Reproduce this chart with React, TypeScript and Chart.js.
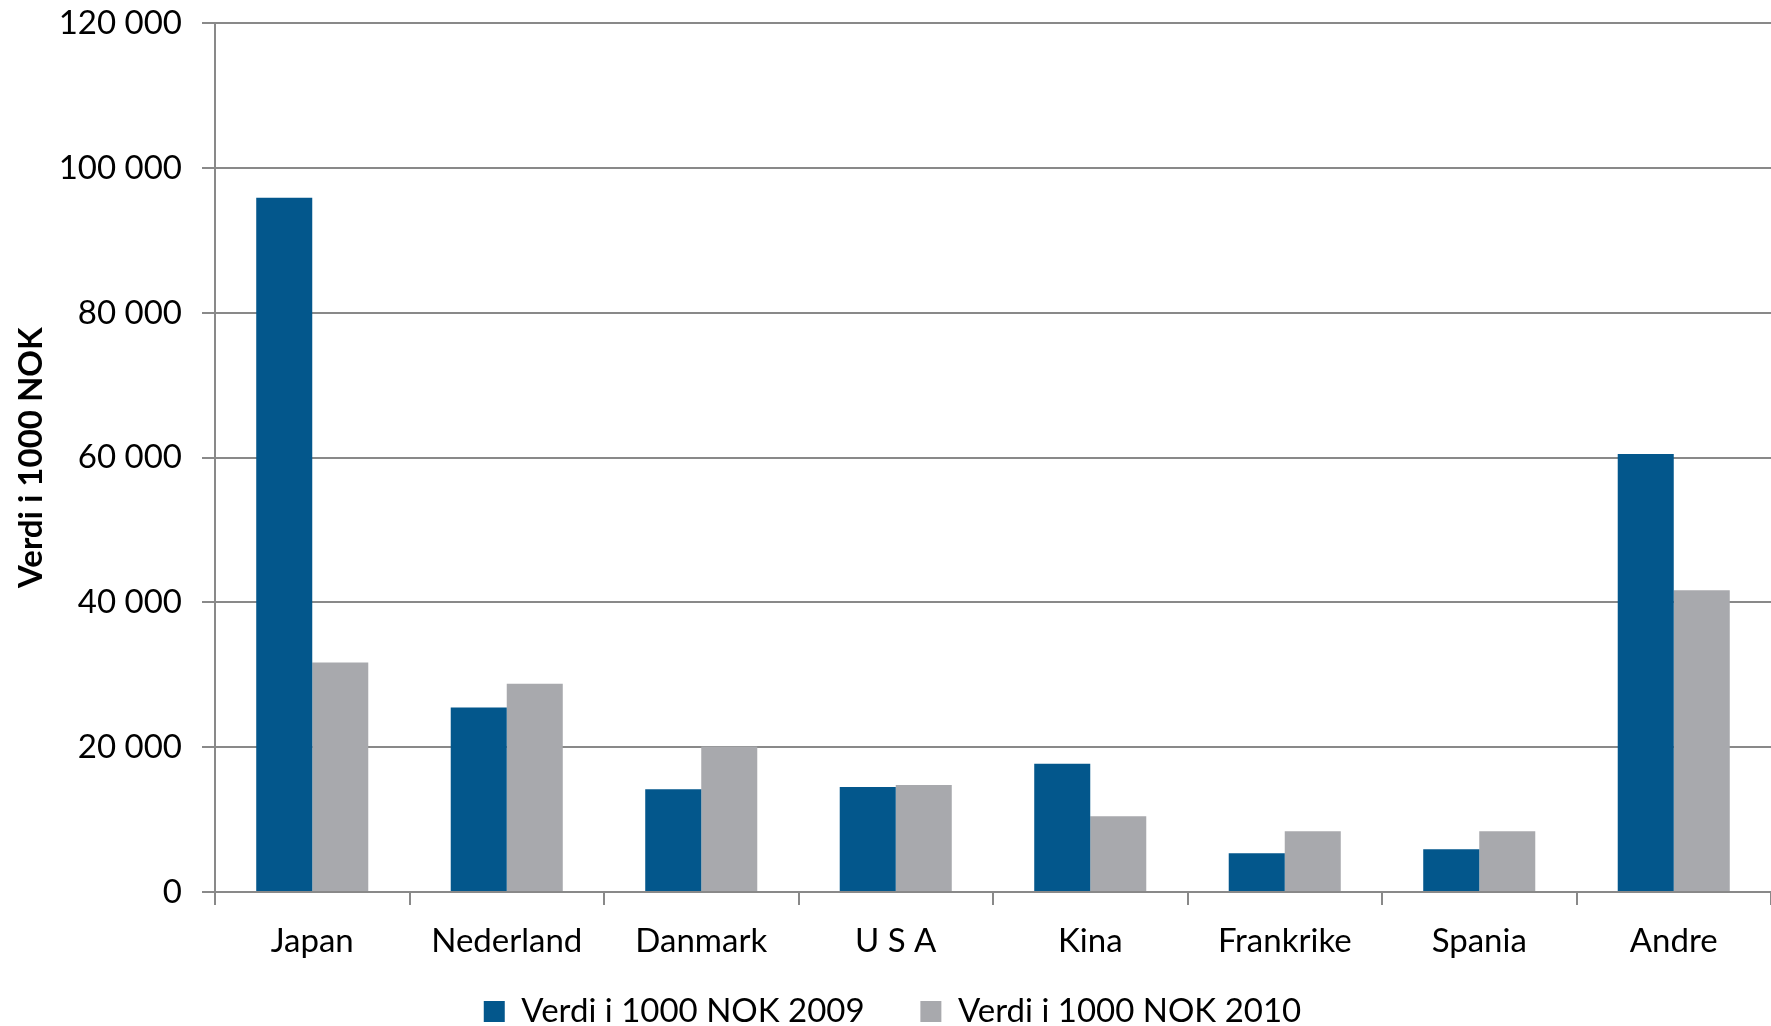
import React, { useEffect, useRef } from "react";
import { Chart, registerables } from "chart.js";

Chart.register(...registerables);

const categories = ["Japan", "Nederland", "Danmark", "U S A", "Kina", "Frankrike", "Spania", "Andre"];
const values2009 = [95900, 25500, 14200, 14500, 17700, 5350, 5900, 60500];
const values2010 = [31700, 28750, 20100, 14780, 10480, 8400, 8400, 41700];
const seriesLabels = ["Verdi i 1000 NOK 2009", "Verdi i 1000 NOK 2010"];
const yTitle = "Verdi i 1000 NOK";

const BLUE = "#03578C";
const GREY = "#A8A9AD";
const LINE = "#898989";
const FONT = "Lato";

function fmt(v: number): string {
  return String(v).replace(/\B(?=(\d{3})+(?!\d))/g, " ");
}

export default function App() {
  const ref = useRef<HTMLCanvasElement | null>(null);

  useEffect(() => {
    document.body.style.margin = "0";
    document.body.style.overflow = "hidden";
    const canvas = ref.current;
    if (!canvas) return;
    const chart = new Chart(canvas, {
      type: "bar",
      data: {
        labels: categories,
        datasets: [
          { label: seriesLabels[0], data: values2009, backgroundColor: BLUE, borderWidth: 0 },
          { label: seriesLabels[1], data: values2010, backgroundColor: GREY, borderWidth: 0 },
        ],
      },
      options: {
        responsive: false,
        animation: false,
        devicePixelRatio: 1,
        layout: { padding: { top: 23, right: 0, left: 14, bottom: 0 } },
        datasets: {
          bar: { categoryPercentage: 0.576, barPercentage: 1 },
        },
        plugins: {
          tooltip: { enabled: false },
          legend: {
            position: "bottom",
            labels: {
              color: "#000",
              font: { family: FONT, size: 33 },
              boxWidth: 21,
              boxHeight: 21,
              padding: 31,
              generateLabels: (c: any) => {
                const items = Chart.defaults.plugins.legend.labels.generateLabels(c);
                items.forEach((it: any, i: number) => {
                  if (i < items.length - 1) it.text = it.text + "\u2003";
                });
                return items;
              },
            },
          },
        },
        scales: {
          x: {
            grid: {
              offset: true,
              drawOnChartArea: false,
              drawTicks: true,
              tickLength: 13,
              color: LINE,
              lineWidth: 2,
            },
            border: { color: LINE, width: 2 },
            ticks: {
              color: "#000",
              font: { family: FONT, size: 33 },
              padding: 17,
              maxRotation: 0,
              autoSkip: false,
            },
            afterFit: (scale: any) => {
              scale.height = 72;
            },
          },
          y: {
            min: 0,
            max: 120000,
            ticks: {
              stepSize: 20000,
              color: "#000",
              font: { family: FONT, size: 33, lineHeight: 0.2 },
              padding: 20,
              callback: (v: any) => fmt(Number(v)),
            },
            grid: {
              color: LINE,
              lineWidth: 2,
              drawTicks: true,
              tickLength: 13,
            },
            border: { color: LINE, width: 2 },
            title: {
              display: true,
              text: yTitle,
              color: "#000",
              font: { family: FONT, size: 33, weight: "bold" },
              padding: { top: -2, bottom: 0 },
            },
            afterFit: (scale: any) => {
              scale.width = 201;
            },
          },
        },
      },
    });
    return () => chart.destroy();
  }, []);

  return (
    <div style={{ width: 1771, height: 1026, overflow: "hidden", position: "relative", background: "#fff" }}>
      <canvas ref={ref} width={1771} height={1038} style={{ display: "block" }} />
    </div>
  );
}
